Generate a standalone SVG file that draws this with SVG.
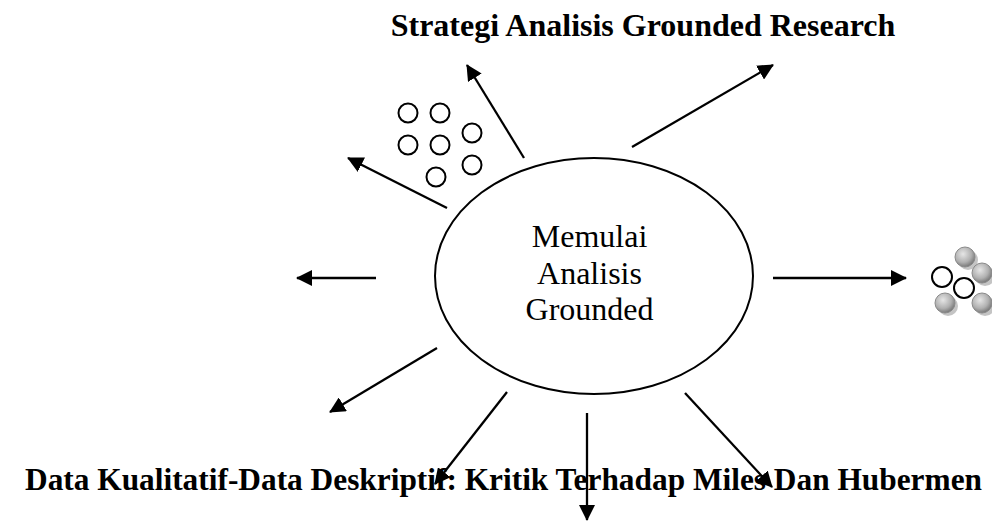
<svg xmlns="http://www.w3.org/2000/svg" width="992" height="522" viewBox="0 0 992 522">
  <style>
    .title { font-family: "Liberation Serif", "Times New Roman", serif; font-weight: bold; font-size: 32px; fill: #000; }
    .label { font-family: "Liberation Serif", "Times New Roman", serif; font-size: 32px; fill: #000; text-anchor: middle; }
    .conn { stroke: #000; stroke-width: 2.3; fill: none; marker-end: url(#arrow); }
    .dot { fill: #fff; stroke: #000; stroke-width: 2; }
    .gdot { fill: url(#gray); stroke: #8a8a8a; stroke-width: 1; }
    .gshadow { fill: #c4c4c4; }
  </style>
  <defs>
    <marker id="arrow" viewBox="0 0 16 16" refX="15" refY="8" markerWidth="16" markerHeight="16" markerUnits="userSpaceOnUse" orient="auto">
      <path d="M0,0 L16,8 L0,16 Z" fill="#000"/>
    </marker>
    <radialGradient id="gray" cx="0.4" cy="0.35" r="0.7">
      <stop offset="0" stop-color="#e6e6e6"/>
      <stop offset="0.6" stop-color="#b0b0b0"/>
      <stop offset="1" stop-color="#6e6e6e"/>
    </radialGradient>
  </defs>
  <rect width="992" height="522" fill="#fff"/>

  <g id="title-top">
    <text class="title" x="643" y="36" text-anchor="middle">Strategi Analisis Grounded Research</text>
  </g>

  <g id="center-node">
    <ellipse cx="594" cy="276" rx="159" ry="118" fill="#fff" stroke="#000" stroke-width="2"/>
    <text class="label" x="589.5" y="247">Memulai</text>
    <text class="label" x="589.5" y="284">Analisis</text>
    <text class="label" x="589.5" y="320">Grounded</text>
  </g>

  <g id="circles-left">
    <circle class="dot" cx="408" cy="113" r="9.5"/>
    <circle class="dot" cx="440" cy="113" r="9.5"/>
    <circle class="dot" cx="408" cy="145" r="9.5"/>
    <circle class="dot" cx="440" cy="145" r="9.5"/>
    <circle class="dot" cx="472" cy="133" r="9.5"/>
    <circle class="dot" cx="472" cy="165" r="9.5"/>
    <circle class="dot" cx="436" cy="177" r="9.5"/>
  </g>

  <g id="circles-right">
    <circle class="gshadow" cx="968" cy="260" r="10"/>
    <circle class="gdot" cx="965" cy="257" r="10"/>
    <circle class="gshadow" cx="985" cy="276" r="10"/>
    <circle class="gdot" cx="982" cy="273" r="10"/>
    <circle class="gshadow" cx="948" cy="306" r="10"/>
    <circle class="gdot" cx="945" cy="303" r="10"/>
    <circle class="gshadow" cx="985" cy="306" r="10"/>
    <circle class="gdot" cx="982" cy="303" r="10"/>
    <circle class="dot" cx="942" cy="277" r="10"/>
    <circle class="dot" cx="964" cy="288" r="10"/>
  </g>

  <g id="connectors">
    <line class="conn" x1="524" y1="158" x2="467" y2="65"/>
    <line class="conn" x1="632" y1="147" x2="773" y2="65"/>
    <line class="conn" x1="447" y1="208" x2="348" y2="158"/>
    <line class="conn" x1="376" y1="278" x2="297" y2="278"/>
    <line class="conn" x1="773" y1="278" x2="906" y2="278"/>
    <line class="conn" x1="437" y1="348" x2="330" y2="412"/>
    <line class="conn" x1="507" y1="392" x2="435" y2="484"/>
    <line class="conn" x1="587" y1="413" x2="587" y2="520"/>
    <line class="conn" x1="685" y1="393" x2="772" y2="487"/>
  </g>

  <g id="title-bottom">
    <text class="title" x="25" y="490" textLength="957" lengthAdjust="spacingAndGlyphs">Data Kualitatif-Data Deskriptif: Kritik Terhadap Miles Dan Hubermen</text>
  </g>
</svg>
